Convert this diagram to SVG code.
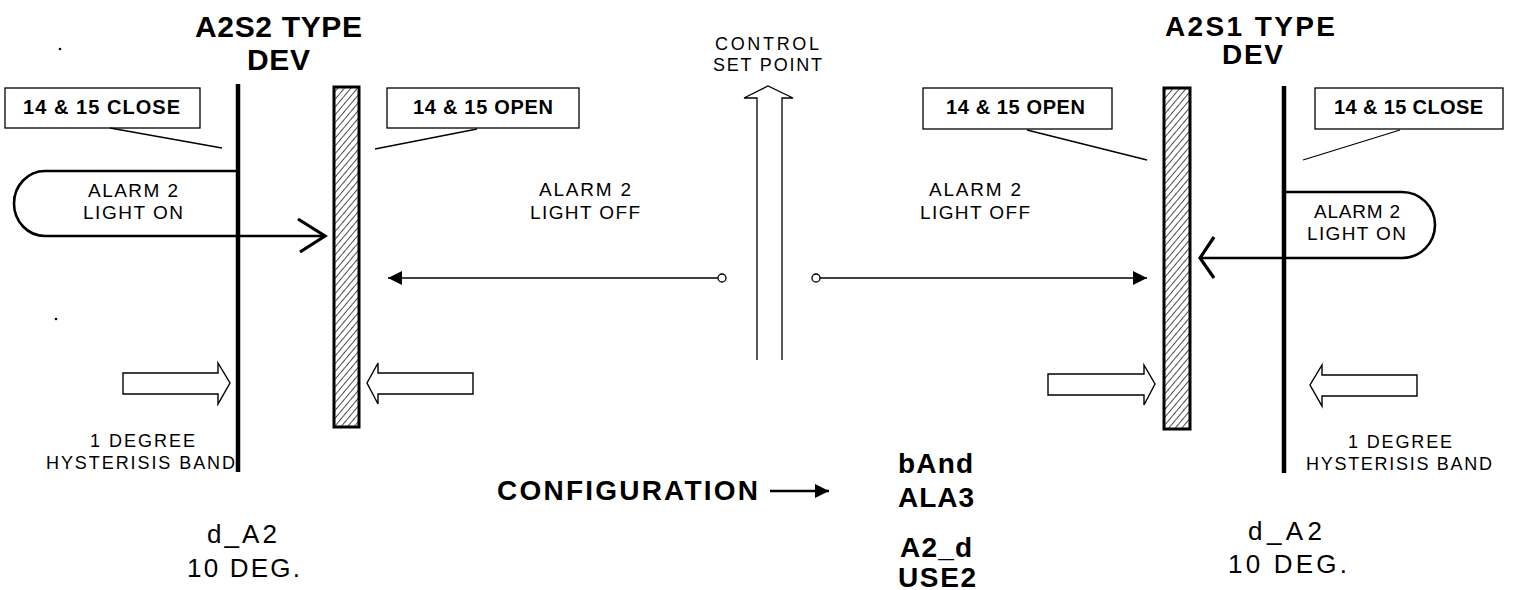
<svg xmlns="http://www.w3.org/2000/svg" width="1514" height="590" viewBox="0 0 1514 590">
<defs>
<pattern id="hatch" patternUnits="userSpaceOnUse" width="5" height="5" patternTransform="rotate(40)">
<line x1="0" y1="0" x2="0" y2="5" stroke="#111" stroke-width="1.5"/>
</pattern>
<marker id="fa2" viewBox="0 0 10 10" refX="10" refY="5" markerWidth="17" markerHeight="14" markerUnits="userSpaceOnUse" orient="auto">
<path d="M0 0 L10 5 L0 10 Z" fill="#000"/>
</marker>
</defs>
<style>
text{font-family:"Liberation Sans",Arial,sans-serif;fill:#000}
.title{font-size:30px;font-weight:bold}
.titler{font-size:28px;font-weight:bold}
.box{font-size:20px;font-weight:bold}
.lbl{font-size:19px}
.sm{font-size:18px}
.big{font-size:26px}
.cfg{font-size:28px;font-weight:bold}
.boxr{fill:#fff;stroke:#000;stroke-width:1.3}
.lead{stroke:#000;stroke-width:1.3;fill:none}
.thick{stroke:#000;stroke-width:4.5;fill:none}
.bar{fill:url(#hatch);stroke:#000;stroke-width:3}
.pill{stroke:#000;stroke-width:2.6;fill:none}
.chev{stroke:#000;stroke-width:3.2;fill:none;stroke-linejoin:miter}
.thin{stroke:#000;stroke-width:1.3;fill:none}
.hollow{stroke:#000;stroke-width:1.4;fill:#fff}
</style>

<g id="left-title">
<text class="title" x="278.5" y="37" text-anchor="middle" textLength="167">A2S2 TYPE</text>
<text class="title" x="278.5" y="70" text-anchor="middle" textLength="63">DEV</text>
</g>
<g id="right-title">
<text class="titler" x="1250" y="36" text-anchor="middle" textLength="170">A2S1 TYPE</text>
<text class="titler" x="1252.5" y="64" text-anchor="middle" textLength="61">DEV</text>
</g>

<g id="left-close-box">
<rect class="boxr" x="5" y="88" width="195" height="40"/>
<text class="box" x="101.5" y="114" text-anchor="middle" textLength="157">14 &amp; 15 CLOSE</text>
</g>
<g id="left-open-box">
<rect class="boxr" x="387" y="88" width="192" height="40"/>
<text class="box" x="483" y="114" text-anchor="middle" textLength="140">14 &amp; 15 OPEN</text>
</g>
<g id="right-open-box">
<rect class="boxr" x="923" y="88" width="189" height="41"/>
<text class="box" x="1015.5" y="114" text-anchor="middle" textLength="139">14 &amp; 15 OPEN</text>
</g>
<g id="right-close-box">
<rect class="boxr" x="1315" y="88" width="188" height="41"/>
<text class="box" x="1408.5" y="114" text-anchor="middle" textLength="149">14 &amp; 15 CLOSE</text>
</g>

<g id="left-close-line">
<line class="thick" x1="238" y1="84" x2="238" y2="472"/>
</g>
<g id="left-open-bar">
<rect class="bar" x="334" y="87" width="25" height="340"/>
</g>
<g id="right-open-bar">
<rect class="bar" x="1164" y="88" width="26" height="341"/>
</g>
<g id="right-close-line">
<line class="thick" x1="1284" y1="86" x2="1284" y2="473"/>
</g>

<g id="control-set-point">
<text class="sm" x="767" y="50" text-anchor="middle" textLength="104">CONTROL</text>
<text class="sm" x="767.5" y="71" text-anchor="middle" textLength="109">SET POINT</text>
<path class="thin" d="M757 360 V98 H744 L768 86 L793 98 H782 V360"/>
</g>

<g id="left-alarm-on">
<text class="lbl" x="133" y="197" text-anchor="middle" textLength="90">ALARM 2</text>
<text class="lbl" x="133" y="219" text-anchor="middle" textLength="100">LIGHT ON</text>
</g>
<g id="left-alarm-off">
<text class="lbl" x="585" y="196" text-anchor="middle" textLength="92">ALARM 2</text>
<text class="lbl" x="585" y="219" text-anchor="middle" textLength="110">LIGHT OFF</text>
</g>
<g id="right-alarm-off">
<text class="lbl" x="975" y="196" text-anchor="middle" textLength="92">ALARM 2</text>
<text class="lbl" x="975" y="219" text-anchor="middle" textLength="110">LIGHT OFF</text>
</g>
<g id="right-alarm-on">
<text class="lbl" x="1357" y="218" text-anchor="middle" textLength="86">ALARM 2</text>
<text class="lbl" x="1356.5" y="240" text-anchor="middle" textLength="99">LIGHT ON</text>
</g>

<g id="left-band">
<text class="sm" x="142.5" y="447" text-anchor="middle" textLength="105">1 DEGREE</text>
<text class="sm" x="140.5" y="469" text-anchor="middle" textLength="189">HYSTERISIS BAND</text>
</g>
<g id="right-band">
<text class="sm" x="1400" y="448" text-anchor="middle" textLength="104">1 DEGREE</text>
<text class="sm" x="1399" y="470" text-anchor="middle" textLength="186">HYSTERISIS BAND</text>
</g>

<g id="left-dev">
<text class="big" x="242" y="543" text-anchor="middle" textLength="70">d_A2</text>
<text class="big" x="243.5" y="577" text-anchor="middle" textLength="113">10 DEG.</text>
</g>
<g id="right-dev">
<text class="big" x="1285" y="540" text-anchor="middle" textLength="74">d_A2</text>
<text class="big" x="1287.5" y="573" text-anchor="middle" textLength="119">10 DEG.</text>
</g>

<g id="configuration">
<text class="cfg" x="497" y="500" textLength="261">CONFIGURATION</text>
</g>
<g id="config-values">
<text class="cfg" x="935.5" y="473" text-anchor="middle" textLength="75">bAnd</text>
<text class="cfg" x="936" y="507" text-anchor="middle" textLength="76">ALA3</text>
<text class="cfg" x="936" y="557" text-anchor="middle" textLength="72">A2_d</text>
<text class="cfg" x="937" y="587" text-anchor="middle" textLength="78">USE2</text>
</g>

<g id="connectors">
<line class="lead" x1="110" y1="128" x2="222" y2="148"/>
<line class="lead" x1="477" y1="129" x2="375" y2="149"/>
<line class="lead" x1="1027" y1="130" x2="1147" y2="160"/>
<line class="lead" x1="1400" y1="130" x2="1303" y2="160"/>
<path class="pill" d="M238 171 H45 A31 32.5 0 0 0 45 236 H324"/>
<path class="chev" d="M298 219 L325 236 L300 252"/>
<path class="pill" d="M1284 192 H1402 A33 33 0 0 1 1402 258 H1201"/>
<path class="chev" d="M1214 237 L1200 258 L1214 278"/>
<circle class="thin" cx="722" cy="278" r="4" fill="#fff"/>
<line class="thin" x1="718" y1="278" x2="388" y2="278" marker-end="url(#fa2)"/>
<circle class="thin" cx="816" cy="278" r="4" fill="#fff"/>
<line class="thin" x1="820" y1="278" x2="1147" y2="278" marker-end="url(#fa2)"/>
<path class="hollow" d="M123 373 H218 V363 L230 383 L218 404 V394 H123 Z"/>
<path class="hollow" d="M473 373 H378 V363 L367 383 L378 404 V394 H473 Z"/>
<path class="hollow" d="M1048 374 H1144 V365 L1155 384 L1144 405 V395 H1048 Z"/>
<path class="hollow" d="M1417 375 H1322 V365 L1310 385 L1322 406 V396 H1417 Z"/>
<line stroke="#000" stroke-width="2.4" x1="770" y1="491" x2="829" y2="491" marker-end="url(#fa2)"/>
</g>
<circle cx="60" cy="49" r="1.3" fill="#000"/>
<circle cx="56" cy="319" r="1.3" fill="#000"/>
</svg>
